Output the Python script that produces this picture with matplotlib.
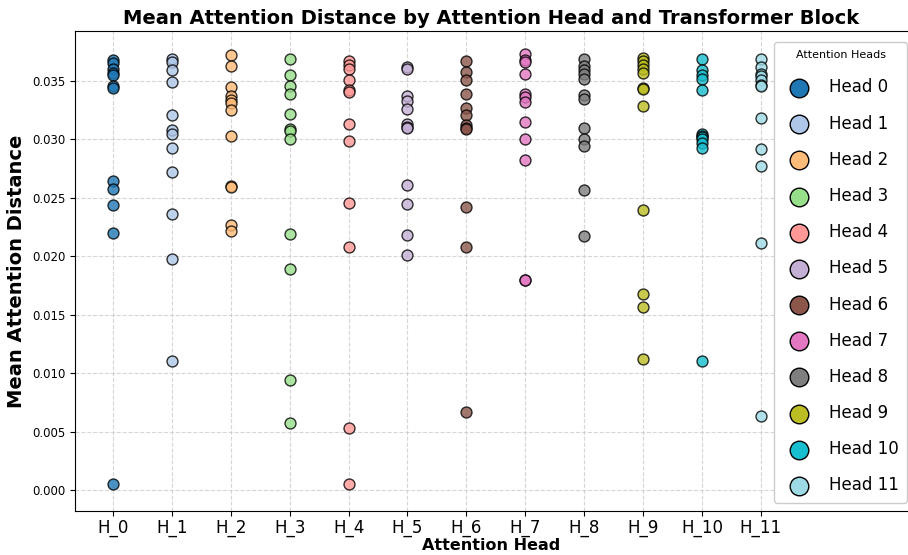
import matplotlib
matplotlib.use('Agg')
import matplotlib.pyplot as plt

heads = [f"H_{i}" for i in range(12)]
legend_labels = [f"Head {i}" for i in range(12)]

head0 = [0.0368, 0.0365, 0.0360, 0.0357, 0.0355, 0.0346, 0.0344, 0.0264, 0.0258, 0.0244, 0.0220, 0.0005]
head1 = [0.0369, 0.0366, 0.0359, 0.0349, 0.0321, 0.0308, 0.0305, 0.0293, 0.0272, 0.0236, 0.0198, 0.0110]
head2 = [0.0372, 0.0363, 0.0345, 0.0337, 0.0334, 0.0331, 0.0325, 0.0303, 0.0260, 0.0259, 0.0227, 0.0222]
head3 = [0.0369, 0.0355, 0.0346, 0.0339, 0.0322, 0.0309, 0.0307, 0.0300, 0.0219, 0.0189, 0.0094, 0.0057]
head4 = [0.0367, 0.0364, 0.0360, 0.0351, 0.0342, 0.0341, 0.0313, 0.0299, 0.0246, 0.0208, 0.0053, 0.0005]
head5 = [0.0362, 0.0360, 0.0337, 0.0333, 0.0326, 0.0313, 0.0311, 0.0310, 0.0261, 0.0245, 0.0218, 0.0201]
head6 = [0.0367, 0.0358, 0.0351, 0.0339, 0.0327, 0.0321, 0.0312, 0.0310, 0.0309, 0.0242, 0.0208, 0.0067]
head7 = [0.0373, 0.0368, 0.0366, 0.0356, 0.0339, 0.0336, 0.0332, 0.0315, 0.0300, 0.0282, 0.0180, 0.0180]
head8 = [0.0369, 0.0363, 0.0359, 0.0356, 0.0352, 0.0338, 0.0335, 0.0310, 0.0300, 0.0294, 0.0257, 0.0217]
head9 = [0.0370, 0.0367, 0.0364, 0.0360, 0.0357, 0.0344, 0.0343, 0.0329, 0.0240, 0.0168, 0.0157, 0.0112]
head10 = [0.0369, 0.0359, 0.0355, 0.0352, 0.0342, 0.0305, 0.0303, 0.0302, 0.0300, 0.0297, 0.0293, 0.0110]
head11 = [0.0369, 0.0362, 0.0356, 0.0354, 0.0351, 0.0347, 0.0346, 0.0318, 0.0292, 0.0277, 0.0211, 0.0063]

values = [head0, head1, head2, head3, head4, head5, head6, head7,
          head8, head9, head10, head11]
yticks = [0.000, 0.005, 0.010, 0.015, 0.020, 0.025, 0.030, 0.035]

W, H = 908, 555
fig = plt.figure(figsize=(W / 100, H / 100), dpi=100)
ax = fig.add_axes([75 / W, 1 - 511 / H, (W - 75) / W, (511 - 31) / H])

cmap = plt.get_cmap('tab20')
for i, vals in enumerate(values):
    ax.scatter([i] * len(vals), vals, s=62, color=cmap(i / 11),
               edgecolor='black', linewidth=1, alpha=0.8,
               label=legend_labels[i], zorder=3)

ax.set_xlim(-0.645, (W - 113) / 58.9)
ax.set_ylim(-0.0018, 0.03928)
ax.set_xticks(range(len(heads)))
ax.set_xticklabels(heads, fontsize=12)
ax.tick_params(axis='x', pad=2)
ax.set_yticks(yticks)
ax.set_yticklabels([f"{v:.3f}" for v in yticks], fontsize=8.5)
ax.grid(True, linestyle='--', color='#cccccc', linewidth=0.8, alpha=0.8)
ax.spines['right'].set_visible(False)

ax.set_title("Mean Attention Distance by Attention Head and Transformer Block",
             fontsize=14, fontweight='bold', pad=5)
ax.set_xlabel("Attention Head", fontsize=11.5, fontweight='bold', labelpad=1)
ax.set_ylabel("Mean Attention Distance", fontsize=14, fontweight='bold')

leg = ax.legend(title="Attention Heads", loc='upper left',
                bbox_to_anchor=(774 / W, 1 - 42 / H),
                bbox_transform=fig.transFigure, borderaxespad=0,
                fontsize=12, title_fontsize=8, markerscale=1.7,
                labelspacing=1.09, handletextpad=0.8, borderpad=0.5,
                framealpha=1.0)
for h in leg.legend_handles:
    h.set_alpha(1.0)

fig.savefig("out.png", dpi=100)
